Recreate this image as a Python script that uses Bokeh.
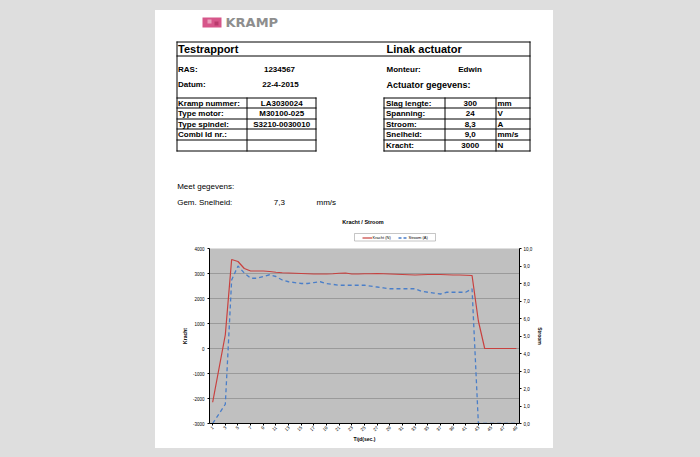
import math
from bokeh.plotting import figure
from bokeh.layouts import row, column
from bokeh.models import (Range1d, LinearAxis, FixedTicker, CustomJSTickFormatter,
                          Legend, LegendItem, ColumnDataSource, Spacer)
from bokeh.core.properties import value
from bokeh.embed import file_html
from bokeh.resources import INLINE

# ---------------- data ----------------
seconds = list(range(1, 50))
kracht_n = [-2150, -800, 550, 3560, 3480, 3200, 3100, 3100, 3100, 3080,
            3050, 3030, 3020, 3010, 3000, 2990, 2980, 2980, 2980, 2990,
            3010, 3020, 2980, 2980, 2990, 2990, 3000, 2990, 2980, 2970,
            2960, 2950, 2940, 2950, 2960, 2960, 2960, 2950, 2940, 2940,
            2930, 2920, 1100, 0, 0, 0, 0, 0, 0]
stroom_a = [0.0, 0.55, 1.1, 8.2, 9.0, 8.6, 8.3, 8.3, 8.4, 8.5,
            8.4, 8.2, 8.1, 8.05, 8.0, 8.0, 8.05, 8.1, 8.0, 7.95,
            7.9, 7.9, 7.9, 7.9, 7.9, 7.85, 7.8, 7.75, 7.7, 7.7,
            7.7, 7.7, 7.7, 7.55, 7.5, 7.45, 7.4, 7.5, 7.5, 7.5,
            7.5, 7.7, 0.0, 0.0, 0.0, 0.0, 0.0, 0.0, 0.0]
x_ticks = list(range(1, 50, 2))
kracht_ticks = [-3000, -2000, -1000, 0, 1000, 2000, 3000, 4000]
stroom_ticks = [0, 1, 2, 3, 4, 5, 6, 7, 8, 9, 10]

left_labels = ["Kramp nummer:", "Type motor:", "Type spindel:", "Combi Id nr.:", ""]
left_values = ["LA3030024", "M30100-025", "S3210-0030010", "", ""]
right_labels = ["Slag lengte:", "Spanning:", "Stroom:", "Snelheid:", "Kracht:"]
right_values = ["300", "24", "8,3", "9,0", "3000"]
right_units = ["mm", "V", "A", "mm/s", "N"]

FONT = "Liberation Sans"
RED = "#C8413F"
BLUE = "#4A7EC8"

PAGE_L, PAGE_R = 155, 553
PAGE_T, SPLIT, PAGE_B = 10, 244, 448

# ---------------- document (upper part of the sheet) ----------------
doc = figure(width=PAGE_R - PAGE_L, height=SPLIT - PAGE_T, output_backend="svg",
             toolbar_location=None, title=None,
             x_range=Range1d(PAGE_L, PAGE_R), y_range=Range1d(SPLIT, PAGE_T),
             x_axis_location=None, y_axis_location=None, min_border=0)
doc.grid.visible = False
doc.outline_line_color = None
doc.background_fill_color = "white"
doc.border_fill_color = "white"


def texts(items, size, bold=True, align="left", color="#000000", font=FONT):
    items = [it for it in items if it[0]]
    if not items:
        return
    src = ColumnDataSource(dict(t=[i[0] for i in items], x=[i[1] for i in items],
                                y=[i[2] for i in items]))
    doc.text(x="x", y="y", text="t", source=src, text_font=value(font),
             text_font_size=value(f"{size}px"),
             text_font_style=value("bold" if bold else "normal"),
             text_align=value(align), text_baseline=value("middle"),
             text_color=color)


# logo
doc.quad(left=[202, 207, 214], right=[221, 211, 218], top=[17, 19, 21], bottom=[27, 23, 25],
         fill_color=["#d6568a", "#eaa0bc", "#b93a6c"], line_color=None)
texts([("KRAMP", 225, 22.3)], 13, True, "left", "#8e8e8e", "DejaVu Sans")

# table lines
row_lines = [97.5, 107.5, 118.5, 128.5, 139.5, 150.5]
seg_x0, seg_y0, seg_x1, seg_y1 = [], [], [], []


def seg(x0, y0, x1, y1):
    seg_x0.append(x0); seg_y0.append(y0); seg_x1.append(x1); seg_y1.append(y1)


seg(176, 41.5, 530, 41.5)
seg(176, 55.5, 530, 55.5)
seg(176.5, 41, 176.5, 151)
seg(529.5, 41, 529.5, 151)
for y in row_lines:
    seg(176, y, 316, y)
    seg(383, y, 530, y)
for x in (246.5, 315.5, 383.5, 444.5, 495.5):
    seg(x, 97, x, 151)
doc.segment(x0=seg_x0, y0=seg_y0, x1=seg_x1, y1=seg_y1, line_color="#000000", line_width=1)

texts([("Testrapport", 177.5, 48.5), ("Linak actuator", 386, 48.5)], 11)
texts([("RAS:", 177.5, 68.7), ("Datum:", 177.5, 84.3), ("Monteur:", 386, 68.7)], 8)
texts([("1234567", 279, 68.7), ("22-4-2015", 280, 84.3), ("Edwin", 469.5, 68.7)], 8,
      align="center")
texts([("Actuator gegevens:", 386, 84.3)], 9)

lab_items, val_items = [], []
for k in range(5):
    yc = (row_lines[k] + row_lines[k + 1]) / 2 + 0.2
    lab_items += [(left_labels[k], 177.5, yc), (right_labels[k], 385.5, yc),
                  (right_units[k], 497, yc)]
    val_items += [(left_values[k], 281.2, yc), (right_values[k], 469.7, yc)]
texts(lab_items, 8)
texts(val_items, 8, align="center")

texts([("Meet gegevens:", 176.7, 185.5), ("Gem. Snelheid:", 176.7, 202.3),
       ("7,3", 273.3, 202.3), ("mm/s", 316, 202.3)], 8, bold=False)

# chart title
texts([("Kracht / Stroom", 362.5, 221.5)], 5.5, align="center")

# legend (box + bokeh legend; proxies carry the series styles, off-range of this panel)
doc.quad(left=[354], right=[435], top=[233], bottom=[240.5], fill_color="white",
         line_color="#a0a0a0", line_width=0.6)
d1 = doc.line(x=seconds[:1], y=kracht_n[:1], line_color=RED, line_width=1.2)
d2 = doc.line(x=seconds[:1], y=stroom_a[:1], line_color=BLUE, line_width=1.3, line_dash="3 2")
legend = Legend(items=[LegendItem(label="Kracht (N)", renderers=[d1]),
                       LegendItem(label="Stroom (A)", renderers=[d2])],
                location=(361.5 - PAGE_L, SPLIT - 239.5), orientation="horizontal",
                label_text_font=FONT, label_text_font_size="4px", label_text_color="#000000",
                glyph_width=10, glyph_height=5, label_height=5, label_width=19,
                label_standoff=1, spacing=6, padding=0, margin=0,
                border_line_color=None, background_fill_alpha=0)
doc.add_layout(legend, "center")

# ---------------- chart ----------------
FRAME_L, FRAME_R, FRAME_T, FRAME_B = 209, 519, 248, 423
chart = figure(width=PAGE_R - PAGE_L, height=PAGE_B - SPLIT, output_backend="svg",
               toolbar_location=None, title=None,
               x_range=Range1d(0.5, 49.5), y_range=Range1d(-3000, 4000),
               min_border_left=FRAME_L - PAGE_L, min_border_right=PAGE_R - FRAME_R,
               min_border_top=FRAME_T - SPLIT, min_border_bottom=PAGE_B - FRAME_B)
chart.border_fill_color = "white"
chart.background_fill_color = "#c0c0c0"
chart.outline_line_color = None
chart.extra_y_ranges = {"stroom": Range1d(0, 10)}

for fig in (doc, chart):
    try:
        fig.frame_align = False
    except Exception:
        pass


def style_axis(ax):
    ax.axis_line_color = "#000000"
    ax.axis_line_width = 1
    ax.major_tick_line_color = "#000000"
    ax.major_tick_out = 2
    ax.major_tick_in = 0
    ax.minor_tick_line_color = None
    ax.major_label_text_font = FONT
    ax.major_label_text_font_size = "4.5px"
    ax.major_label_text_color = "#000000"
    ax.major_label_standoff = 2
    ax.axis_label_text_font = FONT
    ax.axis_label_text_font_size = "5px"
    ax.axis_label_text_font_style = "bold"
    ax.axis_label_text_color = "#000000"
    ax.axis_label_standoff = 2


xa = chart.xaxis[0]
xa.ticker = FixedTicker(ticks=x_ticks)
xa.axis_label = "Tijd(sec.)"
style_axis(xa)
xa.major_label_orientation = math.pi / 4
xa.major_label_standoff = 1
xa.axis_label_standoff = 0

ya = chart.yaxis[0]
ya.ticker = FixedTicker(ticks=kracht_ticks)
ya.formatter = CustomJSTickFormatter(code="return tick.toFixed(0);")
ya.axis_label = "Kracht"
style_axis(ya)
ya.major_label_standoff = 3

ra = LinearAxis(y_range_name="stroom", ticker=FixedTicker(ticks=stroom_ticks),
                formatter=CustomJSTickFormatter(code="return tick.toFixed(1).replace('.', ',');"),
                axis_label="Stroom")
style_axis(ra)
chart.add_layout(ra, "right")

chart.xgrid.visible = False
chart.ygrid[0].ticker = FixedTicker(ticks=kracht_ticks)
chart.ygrid.grid_line_color = "#9a9a9a"
chart.ygrid.grid_line_width = 1

src = ColumnDataSource(dict(t=seconds, kracht=kracht_n, stroom=stroom_a))
chart.line("t", "kracht", source=src, line_color=RED, line_width=1.2)
chart.line("t", "stroom", source=src, y_range_name="stroom", line_color=BLUE,
           line_width=1.3, line_dash="4 3")

# ---------------- page layout ----------------
sheet = column(doc, chart, spacing=0, width=PAGE_R - PAGE_L, height=PAGE_B - PAGE_T)
try:
    sheet.styles = {"background-color": "white"}
except Exception:
    pass
page = column(Spacer(width=PAGE_R - PAGE_L, height=PAGE_T), sheet, spacing=0)
root = row(Spacer(width=PAGE_L, height=10), page, spacing=0)

try:
    from bokeh.models import GlobalInlineStyleSheet
    root.stylesheets = [GlobalInlineStyleSheet(
        css="html,body{margin:0;padding:0;background-color:#dedede;}")]
except Exception:
    pass

open("out.html", "w").write(file_html(root, INLINE))
